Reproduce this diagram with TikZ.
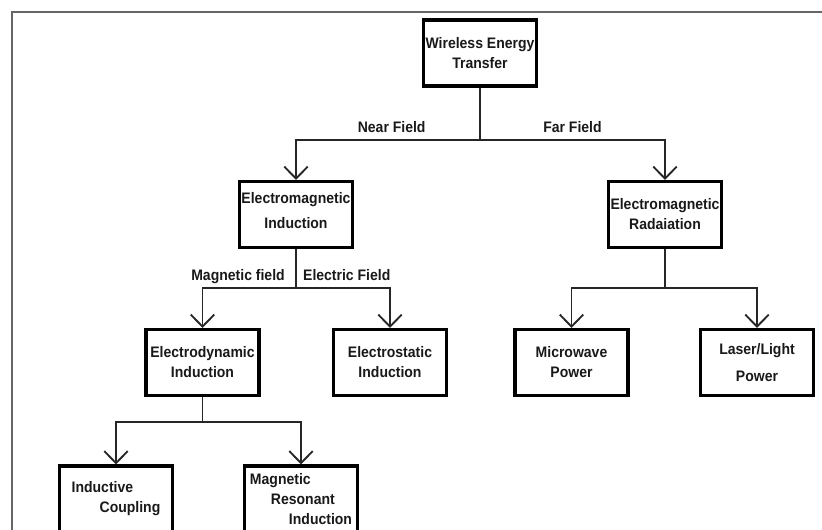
\documentclass[tikz,border=0pt]{standalone}
\usepackage{fontspec}
\setmainfont{Liberation Sans}[FakeStretch=0.92]
\usetikzlibrary{positioning,arrows.meta}
\tikzset{
  every node/.style={font=\bfseries\fontsize{13}{17}\selectfont, text=black!90},
  block/.style={
    rectangle, draw=black, fill=white, line width=2.6pt,
    minimum width=3.39cm, minimum height=1.98cm,
    align=center, inner sep=2pt
  },
  link/.style={line width=1.6pt, draw=black!85},
  arrow/.style={
    link, -{Straight Barb[length=3.6mm,width=7mm]}
  },
  branch/.style={inner sep=1pt, text height=0.75em, text depth=0.2em, above=2.5pt},
  frame/.style={draw=black!60, line width=0.9pt},
}

\begin{document}
\begin{tikzpicture}[x=0.03cm, y=-0.03cm]
  \useasboundingbox (0,0) rectangle (822,529);
  \draw[frame] (12,540) -- (12,12) -- (830,12);

  % boxes
  \node[block] (emi) at (296,214.5) {\raisebox{0.22cm}{\shortstack{Electromagnetic\\[6pt]Induction}}};
  \node[block] (wet) at (480,53) {Wireless Energy\\Transfer};
  \node[block] (emr) at (665,214.5) {Electromagnetic\\Radaiation};
  \node[block] (edi) at (202.5,362.5) {Electrodynamic\\Induction};
  \node[block] (esi) at (390,362.5) {Electrostatic\\Induction};
  \node[block] (mwp) at (571.5,362.5) {Microwave\\Power};
  \node[block] (llp) at (757,362.5) {Laser/Light\\[6pt]Power};
  \node[block, align=left] (ic) at (116,499) {Inductive\\\hspace*{0.84cm}Coupling};
  \node[block, align=left] (mri) at (301,499) {Magnetic\\\hspace*{0.63cm}Resonant\\\hspace*{1.17cm}Induction};

  % bus levels
  \coordinate (fieldbus) at (0,140);
  \coordinate (kindbus) at (0,288);
  \coordinate (edbus) at (0,422);

  % connectors
  \draw[link] (wet.south) -- (wet.south |- fieldbus);
  \draw[arrow] (wet.south |- fieldbus) -| node[branch, pos=0.24] {Near Field} (emi.north);
  \draw[arrow] (wet.south |- fieldbus) -| node[branch, pos=0.25] {Far Field} (emr.north);

  \draw[link] (emi.south) -- (emi.south |- kindbus);
  \draw[arrow] (emi.south |- kindbus) -| node[branch, pos=0.31] {Magnetic field} (edi.north);
  \draw[arrow] (emi.south |- kindbus) -| node[branch, pos=0.27] {Electric Field} (esi.north);

  \draw[link] (emr.south) -- (emr.south |- kindbus);
  \draw[arrow] (emr.south |- kindbus) -| (mwp.north);
  \draw[arrow] (emr.south |- kindbus) -| (llp.north);

  \draw[link] (edi.south) -- (edi.south |- edbus);
  \draw[arrow] (edi.south |- edbus) -| (ic.north);
  \draw[arrow] (edi.south |- edbus) -| (mri.north);
\end{tikzpicture}
\end{document}
